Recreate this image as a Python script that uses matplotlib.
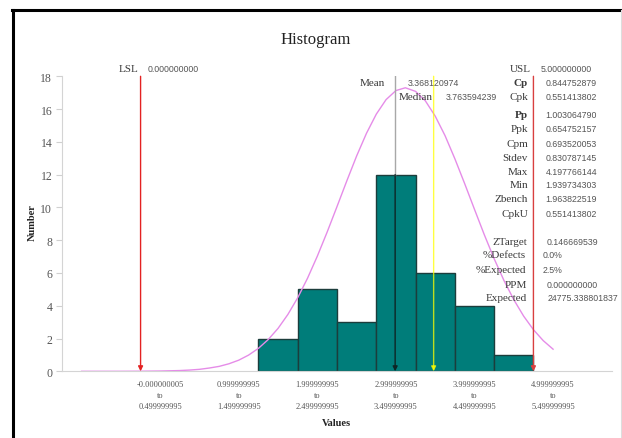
import matplotlib
matplotlib.use("Agg")
import matplotlib.pyplot as plt
from matplotlib.lines import Line2D

# ---------------- data ----------------
bin_left = [1.5, 2.0, 2.5, 3.0, 3.5, 4.0, 4.5]
counts = [2, 5, 3, 12, 6, 4, 1]
bin_width = 0.5

tick_pos = [0.25, 1.25, 2.25, 3.25, 4.25, 5.25]
tick_labels = [
    "-0.000000005\nto\n0.499999995",
    "0.999999995\nto\n1.499999995",
    "1.999999995\nto\n2.499999995",
    "2.999999995\nto\n3.499999995",
    "3.999999995\nto\n4.499999995",
    "4.999999995\nto\n5.499999995",
]

curve_x = [-0.75, -0.5, -0.25, 0.0, 0.25, 0.5, 0.625, 0.75, 0.875, 1.0, 1.125,
           1.25, 1.375, 1.5, 1.625, 1.75, 1.875, 2.0, 2.125, 2.25, 2.375, 2.5,
           2.625, 2.75, 2.875, 3.0, 3.125, 3.25, 3.37, 3.5, 3.625, 3.75, 3.875,
           4.0, 4.125, 4.25, 4.375, 4.5, 4.625, 4.75, 4.875, 5.0, 5.125, 5.25]
curve_y = [0.0, 0.0, 0.0, 0.005, 0.016, 0.046, 0.076, 0.12, 0.20, 0.30, 0.46,
           0.68, 0.99, 1.40, 1.94, 2.62, 3.47, 4.49, 5.68, 7.03, 8.50, 10.05,
           11.62, 13.14, 14.52, 15.69, 16.58, 17.13, 17.3, 17.08, 16.50, 15.57,
           14.38, 12.97, 11.45, 9.88, 8.33, 6.87, 5.54, 4.37, 3.37, 2.54, 1.87,
           1.35]

lsl = 0.0
usl = 5.0
mean_pos = 3.24     # where the mean marker is drawn in the picture
median_pos = 3.73   # where the median marker is drawn in the picture
mean_text = "3.368120974"
median_text = "3.763594239"

stat_names = ["Cp", "Cpk", "Pp", "Ppk", "Cpm", "Stdev", "Max", "Min", "Zbench",
              "CpkU", "ZTarget", "%Defects", "%Expected", "PPM", "Expected"]
stat_values = ["0.844752879", "0.551413802", "1.003064790", "0.654752157",
               "0.693520053", "0.830787145", "4.197766144", "1.939734303",
               "1.963822519", "0.551413802", "0.146669539", "0.0%", "2.5%",
               "0.000000000", "24775.338801837"]

# ---------------- figure ----------------
W, H = 622, 439
fig = plt.figure(figsize=(W / 100, H / 100), dpi=100)
fig.patch.set_facecolor("white")

SERIF = ["Liberation Serif", "DejaVu Serif"]
SANS = ["Liberation Sans", "DejaVu Sans"]

def fx(px):
    return px / W

def fy(py):
    return 1 - py / H

ax = fig.add_axes([fx(62), fy(372.3), fx(612) - fx(62), fy(77.3) - fy(372.3)])
ax.set_xlim(-1, 6)
ax.set_ylim(0, 18)

teal = "#007d7a"
ax.bar(bin_left, counts, width=bin_width, align="edge", color=teal,
       edgecolor="#1c3d3c", linewidth=1.0, zorder=2)

ax.plot(curve_x, curve_y, color="#e58ce8", linewidth=1.0, zorder=3)

# vertical markers with arrow heads
def vmarker(x, color, alpha=1.0, zorder=4):
    ax.annotate("", xy=(x, 0), xytext=(x, 18),
                arrowprops=dict(arrowstyle="-|>", color=color, lw=1.0,
                                mutation_scale=7, shrinkA=0, shrinkB=0,
                                alpha=alpha),
                zorder=zorder, annotation_clip=False)

vmarker(lsl, "#e32222")
vmarker(usl, "#d94040")
vmarker(median_pos, "#ffff00", alpha=0.75)
# mean: grey above the bar, dark where it crosses the bar
ax.plot([mean_pos, mean_pos], [counts[3], 18], color="#a8a8a8", lw=1.0, zorder=4)
ax.annotate("", xy=(mean_pos, 0), xytext=(mean_pos, counts[3]),
            arrowprops=dict(arrowstyle="-|>", color="#0e2626", lw=1.0,
                            mutation_scale=7, shrinkA=0, shrinkB=0),
            zorder=4)

# axes styling
for s in ["top", "right"]:
    ax.spines[s].set_visible(False)
for s in ["left", "bottom"]:
    ax.spines[s].set_color("#d4d4d4")
    ax.spines[s].set_linewidth(0.8)
ax.set_yticks(range(0, 19, 2))
ax.tick_params(axis="y", colors="#d0d0d0", length=4, width=0.8, pad=3,
               labelcolor="#555555", labelsize=8.5)
ax.set_xticks(tick_pos)
ax.set_xticklabels(tick_labels, fontsize=6, color="#555555", family=SERIF,
                   linespacing=1.5)
ax.tick_params(axis="x", length=0, pad=6)
for lab in ax.get_yticklabels():
    lab.set_family(SERIF)

# titles / labels
fig.text(fx(316), fy(40), "Histogram", ha="center", va="center",
         fontsize=12, family=SERIF, color="#222222")
fig.text(fx(32), fy(223), "Number", ha="center", va="center", rotation=90,
         fontsize=7.5, family=SERIF, fontweight="bold", color="#222222")
fig.text(fx(336), fy(424), "Values", ha="center", va="center",
         fontsize=7.5, family=SERIF, fontweight="bold", color="#222222")

lab_col = "#3a3a3a"
val_col = "#555555"

def label(px_right, py, txt, bold=False):
    fig.text(fx(px_right), fy(py), txt, ha="right", va="center", fontsize=8,
             family=SERIF, color=lab_col,
             fontweight="bold" if bold else "normal")

def value(px_left, py, txt):
    fig.text(fx(px_left), fy(py), txt, ha="left", va="center", fontsize=6.3,
             family=SANS, color=val_col)

label(138, 69.5, "LSL")
value(148, 69.5, "0.000000000")
label(531, 69.5, "USL")
value(541, 69.5, "5.000000000")
label(385, 83.5, "Mean")
value(408, 83.5, mean_text)
label(433, 97, "Median")
value(446, 97, median_text)

stat_y = [83.5, 97, 116, 130, 144.3, 158.3, 172.3, 186, 200, 214.3,
          242.3, 256, 270.3, 285, 298.7]
stat_right = [528] * 10 + [527, 526, 526, 527, 527]
stat_vleft = [545.5] * 10 + [546.5, 542.5, 542.5, 546.5, 547.5]
bold_names = {"Cp", "Pp"}
for n, v, y, r, l in zip(stat_names, stat_values, stat_y, stat_right, stat_vleft):
    label(r, y, n, bold=(n in bold_names))
    value(l, y, v)

# outer frame
fig.add_artist(Line2D([fx(13), fx(13)], [fy(11), 0], color="black", lw=2.2))
fig.add_artist(Line2D([fx(12.2), 1], [fy(11), fy(11)], color="black", lw=2.2))
fig.add_artist(Line2D([fx(621.3), fx(621.3)], [fy(11), 0], color="#dddddd", lw=0.8))

fig.savefig("out.png", dpi=100, facecolor="white")
